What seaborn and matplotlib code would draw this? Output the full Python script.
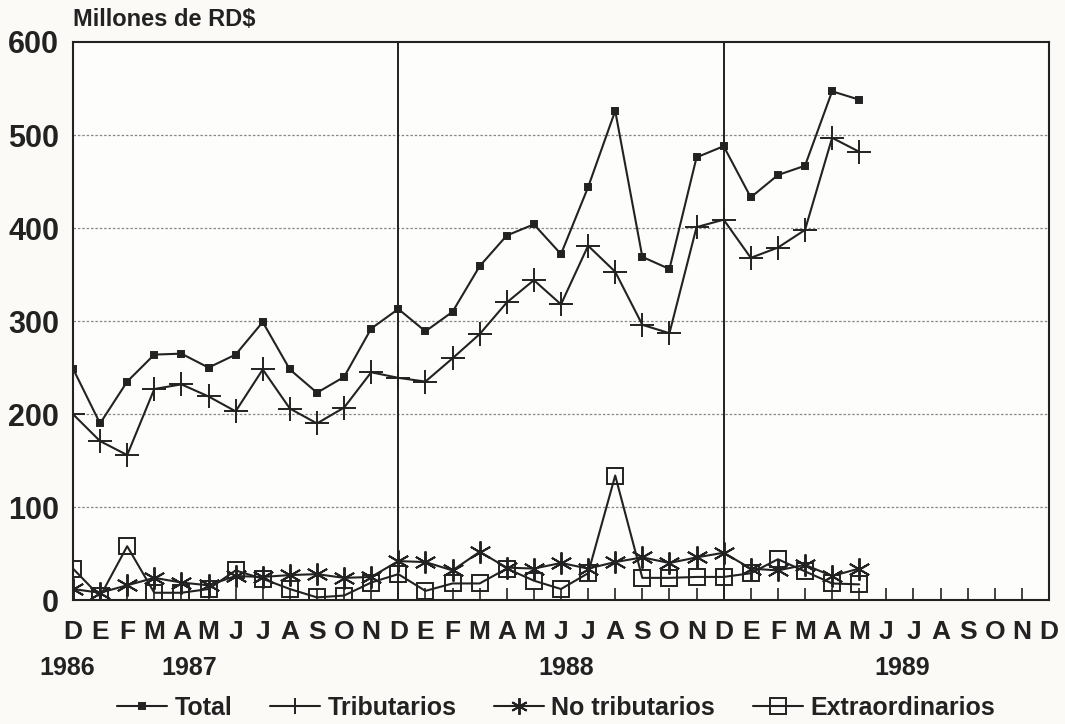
import matplotlib
matplotlib.use("Agg")
import matplotlib.pyplot as plt
import matplotlib.transforms as mtransforms
import seaborn as sns
import pandas as pd
import numpy as np

months = ["D", "E", "F", "M", "A", "M", "J", "J", "A", "S", "O", "N",
          "D", "E", "F", "M", "A", "M", "J", "J", "A", "S", "O", "N",
          "D", "E", "F", "M", "A", "M", "J", "J", "A", "S", "O", "N", "D"]
years = ["1986", "1987", "1988", "1989"]
year_pos = [-0.2, 4.3, 18.2, 30.6]

total = [249, 190, 235, 264, 265, 250, 264, 299, 248, 223, 240, 292,
         313, 289, 310, 359, 392, 404, 372, 444, 526, 369, 356, 476,
         488, 433, 457, 467, 547, 538]
tributarios = [200, 171, 156, 227, 232, 219, 203, 248, 206, 190, 207, 245,
               239, 235, 260, 286, 320, 344, 318, 381, 353, 296, 287, 401,
               409, 368, 379, 398, 497, 482]
no_tributarios = [12, 8, 16, 24, 19, 16, 26, 25, 27, 28, 24, 25,
                  42, 41, 32, 52, 35, 34, 40, 34, 41, 46, 40, 46,
                  51, 34, 32, 38, 26, 34]
extraordinarios = [34, 4, 58, 8, 8, 12, 32, 23, 12, 3, 5, 19,
                   28, 10, 18, 18, 34, 21, 12, 29, 134, 24, 24, 25,
                   25, 29, 44, 31, 18, 17]

series_names = ["Total", "Tributarios", "No tributarios", "Extraordinarios"]
series_vals = [total, tributarios, no_tributarios, extraordinarios]

sns.set_style("white")
plt.rcParams["font.family"] = ["Liberation Sans", "DejaVu Sans"]
plt.rcParams["font.weight"] = "bold"

fig = plt.figure(figsize=(10.65, 7.24), dpi=100)
fig.patch.set_facecolor("#fbfaf6")
ax = fig.add_axes([0.0685, 0.171, 0.9165, 0.771])
ax.set_facecolor("#fdfdfb")

markers = {"Total": "s", "Tributarios": "+", "No tributarios": (6, 2, 0),
           "Extraordinarios": "s"}
msizes = {"Total": 4, "Tributarios": 17, "No tributarios": 16, "Extraordinarios": 12}

for name, vals in zip(series_names, series_vals):
    df = pd.DataFrame({"mes": np.arange(len(vals)), "valor": vals})
    face = "none" if name == "Extraordinarios" else "#222222"
    sns.lineplot(data=df, x="mes", y="valor", ax=ax, color="#222222",
                 linewidth=1.5, marker=markers[name], markersize=msizes[name],
                 markerfacecolor=face, markeredgecolor="#222222",
                 markeredgewidth=1.4, label=name, legend=False)

ax.set_xlim(0, 36)
ax.set_ylim(0, 600)
ax.set_yticks([0, 100, 200, 300, 400, 500, 600])
ax.set_yticklabels(["0", "100", "200", "300", "400", "500", "600"],
                   fontsize=22, fontweight="bold", color="#222222")
ax.set_xticks(np.arange(len(months)))
ax.set_xticklabels(months, fontsize=19, fontweight="bold", color="#222222")
ax.tick_params(axis="x", bottom=True, direction="in", length=9, width=1.2,
               pad=14, color="#222222")
ax.tick_params(axis="y", left=False, length=0, pad=10)
ax.set_xlabel("")
ax.set_ylabel("")

for y in [100, 200, 300, 400, 500]:
    ax.axhline(y, color="#888888", linestyle=(0, (2, 1.5)), linewidth=0.9, zorder=0)
for x in [12, 24]:
    ax.axvline(x, color="#222222", linewidth=1.4, zorder=1)

for s in ax.spines.values():
    s.set_color("#222222")
    s.set_linewidth(1.5)

trans = mtransforms.blended_transform_factory(ax.transData, ax.transAxes)
for yr, xp in zip(years, year_pos):
    ax.text(xp, -0.122, yr, transform=trans, ha="center", va="center",
            fontsize=18, fontweight="bold", color="#222222")

ax.text(0.0, 1.04, "Millones de RD$", transform=ax.transAxes, ha="left",
        va="center", fontsize=17, fontweight="bold", color="#222222")

handles = ax.get_lines()[:4]
leg = fig.legend(handles, series_names, loc="center", bbox_to_anchor=(0.522, 0.022),
                 ncol=4, frameon=False, fontsize=18, handlelength=2.0,
                 columnspacing=1.5, handletextpad=0.3)
for t in leg.get_texts():
    t.set_fontweight("bold")
    t.set_color("#222222")
for h in leg.legend_handles:
    h.set_markersize(min(h.get_markersize(), 12))

fig.savefig("out.png", dpi=100, facecolor=fig.get_facecolor())
